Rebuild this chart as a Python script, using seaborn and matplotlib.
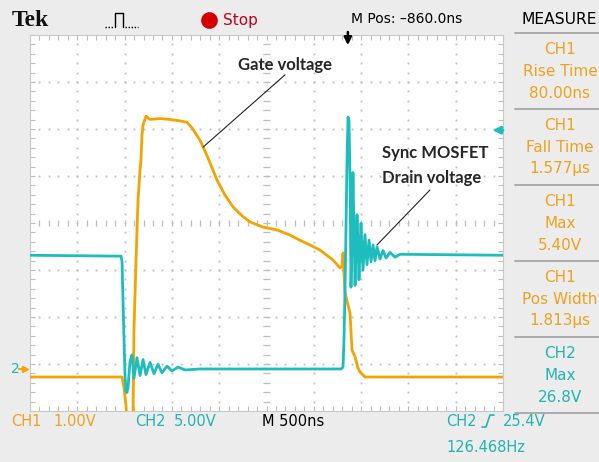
import numpy as np
import pandas as pd
import matplotlib
matplotlib.use("Agg")
import matplotlib.pyplot as plt
import seaborn as sns
from matplotlib.lines import Line2D

# ---------------- data ----------------
# CH1: gate voltage (V) vs time relative to trigger (ns)
ch1_time_ns = [-3360, -2387, -2366, -2345, -2335, -2271, -2261, -2239, -2218, -2197,
               -2187, -2176, -2165, -2134, -2091, -1986, -1880, -1774, -1700, -1647,
               -1563, -1478, -1383, -1299, -1214, -1119, -1034, -897, -749, -612,
               -506, -400, -294, -157, -83, -62, -51, -30, 23, 44,
               76, 107, 128, 181, 1640]
ch1_volts = [0.0, 0.0, -0.23, -0.6, -0.95, -0.95, 1.0, 2.5, 3.77, 4.4,
             4.62, 5.15, 5.36, 5.55, 5.48, 5.5, 5.48, 5.45, 5.42, 5.3,
             5.04, 4.66, 4.19, 3.87, 3.62, 3.43, 3.30, 3.19, 3.13, 3.02,
             2.91, 2.81, 2.70, 2.49, 2.32, 2.36, 2.64, 1.79, 1.36, 0.57,
             0.43, 0.19, 0.11, 0.0, 0.0]

# CH2: sync MOSFET drain voltage (V) vs time relative to trigger (ns)
ch2_time_ns = [-3360, -2397, -2387, -2377, -2366, -2356, -2345, -2335, -2324, -2313,
               -2303, -2282, -2261, -2229, -2197, -2165, -2134, -2091, -2049, -2007,
               -1965, -1912, -1859, -1795, -1721, -1563, -72, -51, -41, -30,
               -20, -9, 2, 12, 23, 33, 44, 54, 65, 76,
               86, 97, 107, 118, 128, 139, 160, 181, 202, 224,
               245, 266, 287, 308, 340, 372, 403, 446, 498, 551, 1640]
ch2_volts = [12.1, 12.0, 11.4, 7.3, 3.1, -0.6, -2.4, -2.5, -2.0, -0.5,
             0.8, 1.5, -1.0, 1.2, -0.7, 1.0, -0.6, 0.7, -0.5, 0.5,
             -0.4, 0.3, -0.2, 0.2, -0.1, 0.0, 0.0, 0.2, 3.1, 8.4,
             14.8, 22.2, 26.8, 26.5, 20.1, 8.7, 13.7, 20.9, 14.8, 8.9,
             12.7, 16.4, 13.2, 9.5, 12.7, 15.5, 10.5, 14.3, 11.1, 13.7,
             11.4, 13.2, 11.5, 13.0, 11.7, 12.6, 11.8, 12.4, 11.9, 12.2, 12.1]

measure_channels = ["CH1", "CH1", "CH1", "CH1", "CH2"]
measure_names = ["Rise Time", "Fall Time", "Max", "Pos Width", "Max"]
measure_values = ["80.00ns", "1.577µs", "5.40V", "1.813µs", "26.8V"]

ch1_scale = "1.00V"
ch2_scale = "5.00V"
time_scale = "M 500ns"
trigger_level = 25.4
trigger_freq = "126.468Hz"
m_pos = "M Pos: –860.0ns"

# ---------------- style ----------------
sns.set_style("white")
plt.rcParams["font.family"] = ["DejaVu Sans"]

ORANGE = "#f5a300"
CYAN = "#1dbdbd"
TXT_OR = "#eca21e"
TXT_CY = "#22b3b3"
BG = "#ececec"
GRID = "#bdbdbd"

W, H = 599, 462
fig = plt.figure(figsize=(W / 100, H / 100), dpi=100)
fig.patch.set_facecolor(BG)


def fx(x):
    return x / W


def fy(y):
    return 1 - y / H


def fline(xs, ys, **kw):
    fig.add_artist(Line2D([fx(v) for v in xs], [fy(v) for v in ys],
                          transform=fig.transFigure, **kw))


def ftext(x, y, s, **kw):
    fig.text(fx(x), fy(y), s, **kw)


L, T, R, B = 30, 35, 503, 411
rect = [fx(L), fy(B), (R - L) / W, (B - T) / H]

# ---------------- graticule ----------------
gax = fig.add_axes(rect)
gax.set_xlim(0, 10)
gax.set_ylim(0, 8)
gax.set_facecolor("white")
sub_y = np.arange(0.2, 8.0, 0.2)
sub_x = np.arange(0.2, 10.0, 0.2)
for k in range(1, 10):
    if k == 5:
        continue
    gax.plot(np.full_like(sub_y, k), sub_y, ls="none", marker="s", ms=1.3,
             mec="none", color=GRID)
for j in range(1, 8):
    if j == 4:
        continue
    gax.plot(sub_x, np.full_like(sub_x, j), ls="none", marker="s", ms=1.3,
             mec="none", color=GRID)
gax.hlines(sub_y, 5 - 0.065, 5 + 0.065, color=GRID, lw=0.9)
gax.vlines(sub_x, 4 - 0.065, 4 + 0.065, color=GRID, lw=0.9)
gax.set_xticks(np.arange(0, 10.01, 1))
gax.set_yticks(np.arange(0, 8.01, 1))
gax.set_xticks(sub_x, minor=True)
gax.set_yticks(sub_y, minor=True)
gax.tick_params(which="both", direction="in", length=3.5, width=0.8, color=GRID,
                top=True, bottom=True, left=True, right=True,
                labelbottom=False, labelleft=False)
for s in gax.spines.values():
    s.set_color("#c8c8c8")
    s.set_linewidth(0.8)

# ---------------- traces ----------------
df1 = pd.DataFrame({"t": ch1_time_ns, "v": ch1_volts})
df2 = pd.DataFrame({"t": ch2_time_ns, "v": ch2_volts})

ax = fig.add_axes(rect)
ax.patch.set_alpha(0)
sns.lineplot(data=df1, x="t", y="v", ax=ax, color=ORANGE, lw=2.0,
             estimator=None, sort=False)
ax.set_xlim(-3360, 1640)
ax.set_ylim(-0.723, 7.277)

ax2 = ax.twinx()
ax2.patch.set_alpha(0)
sns.lineplot(data=df2, x="t", y="v", ax=ax2, color=CYAN, lw=2.0,
             estimator=None, sort=False)
ax2.set_ylim(-4.47, 35.53)
ax.axis("off")
ax2.axis("off")

# trigger markers
ax2.annotate("", xy=(0.978, trigger_level), xycoords=("axes fraction", "data"),
             xytext=(1.0, trigger_level), textcoords=("axes fraction", "data"),
             arrowprops=dict(arrowstyle="-|>", color=CYAN, lw=2.0,
                             mutation_scale=11, shrinkA=0, shrinkB=0))
ax.annotate("", xy=(0, 0.973), xycoords=("data", "axes fraction"),
            xytext=(0, 1.008), textcoords=("data", "axes fraction"),
            arrowprops=dict(arrowstyle="-|>", color="black", lw=1.8,
                            mutation_scale=11, shrinkA=0, shrinkB=0))

# annotations
ax.annotate("", xy=(-1531, 4.89), xytext=(-664, 6.43),
            arrowprops=dict(arrowstyle="-", color="#222222", lw=0.8,
                            shrinkA=0, shrinkB=0))
ax.text(-664, 6.64, "Gate voltage", ha="center", va="center",
        fontsize=12, fontweight="bold", family=["Lato", "DejaVu Sans"])
ax.annotate("", xy=(308, 2.81), xytext=(868, 3.98),
            arrowprops=dict(arrowstyle="-", color="#222222", lw=0.8,
                            shrinkA=0, shrinkB=0))
ax.text(361, 4.77, "Sync MOSFET", ha="left", va="center",
        fontsize=12, fontweight="bold", family=["Lato", "DejaVu Sans"])
ax.text(361, 4.23, "Drain voltage", ha="left", va="center",
        fontsize=12, fontweight="bold", family=["Lato", "DejaVu Sans"])

# ground markers
ftext(11, 369, "2", color=TXT_CY, fontsize=10, va="center", ha="left")
fig.add_artist(Line2D([fx(25)], [fy(369)], marker=">", ms=5, color=ORANGE,
                      transform=fig.transFigure))
fline([19, 25], [369, 369], color=ORANGE, lw=1.5)

# ---------------- header ----------------
ftext(12, 20, "Tek", fontsize=17, fontweight="bold", family=["Liberation Serif"],
      va="center", ha="left", color="#111111")
fline([105, 114], [27, 27], color="black", lw=1.0, ls=(0, (1, 1.2)))
fline([115, 115, 123, 123], [27, 13, 13, 27], color="black", lw=1.0)
fline([125, 138], [27, 27], color="black", lw=1.0, ls=(0, (1, 1.2)))
fig.add_artist(Line2D([fx(209)], [fy(20)], marker="o", ms=12, color="#d40000",
                      mec="none", transform=fig.transFigure))
ftext(223, 20, "Stop", fontsize=11, color="#c8001e", va="center", ha="left")
ftext(351, 19, m_pos, fontsize=10, color="black", va="center", ha="left")
ftext(597, 19, "MEASURE", fontsize=11.2, color="black", va="center", ha="right")

# ---------------- measurement panel ----------------
for i in range(6):
    yline = 33 + 76 * i
    fline([515, 599], [yline, yline], color="#a6a6a6", lw=1.3)
for i, (ch, name, val) in enumerate(zip(measure_channels, measure_names, measure_values)):
    top = 33 + 76 * i
    col = TXT_OR if ch == "CH1" else TXT_CY
    for off, s in zip([17, 39, 60], [ch, name, val]):
        ftext(560, top + off, s, fontsize=11, color=col, ha="center", va="center")

# ---------------- bottom status ----------------
ftext(11, 421, "CH1", fontsize=10.5, color=TXT_OR, va="center", ha="left")
ftext(53, 421, ch1_scale, fontsize=10.5, color=TXT_OR, va="center", ha="left")
ftext(135, 421, "CH2", fontsize=10.5, color=TXT_CY, va="center", ha="left")
ftext(174, 421, ch2_scale, fontsize=10.5, color=TXT_CY, va="center", ha="left")
ftext(262, 421, time_scale, fontsize=10.5, color="black", va="center", ha="left")
ftext(446, 421, "CH2", fontsize=10.5, color=TXT_CY, va="center", ha="left")
fline([482, 486, 490, 494], [427, 427, 415, 415], color=TXT_CY, lw=1.2)
ftext(503, 421, f"{trigger_level}V", fontsize=10.5, color=TXT_CY, va="center", ha="left")
ftext(446, 447, trigger_freq, fontsize=10.5, color=TXT_CY, va="center", ha="left")

fig.savefig("out.png", dpi=100, facecolor=BG)
